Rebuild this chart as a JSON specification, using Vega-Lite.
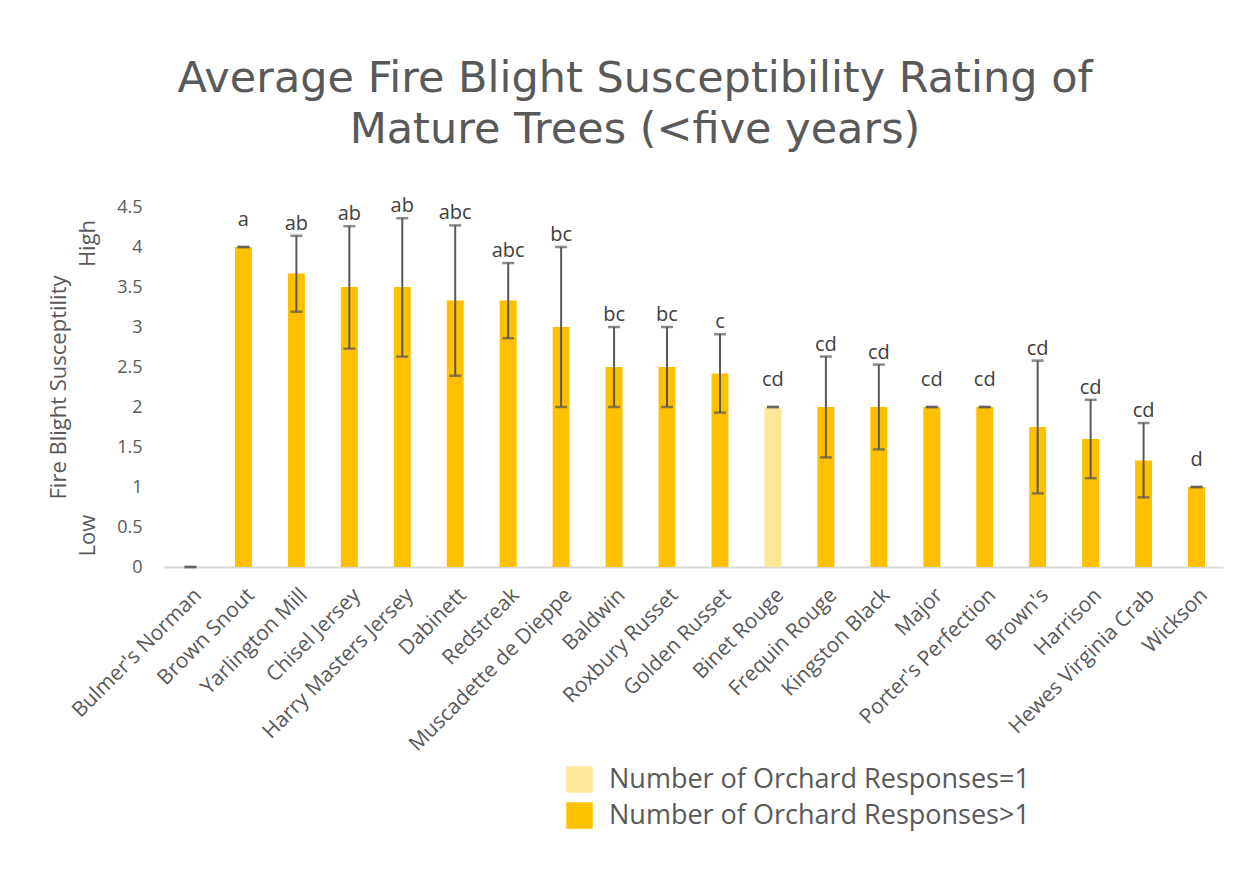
{
  "$schema": "https://vega.github.io/schema/vega-lite/v6.json",
  "width": 1059,
  "height": 360,
  "autosize": "none",
  "padding": {"left": 164, "top": 207, "right": 24, "bottom": 308},
  "background": "white",
  "title": {
    "text": ["Average Fire Blight Susceptibility Rating of", "Mature Trees (<five years)"],
    "font": "DejaVu Sans",
    "fontSize": 43,
    "fontWeight": "normal",
    "color": "#595959",
    "lineHeight": 51,
    "anchor": "middle",
    "frame": "bounds",
    "offset": 44
  },
  "data": {
    "values": [
      {"variety": "Bulmer's Norman", "mean": 0, "lower": 0, "upper": 0, "letters": "", "group": "Number of Orchard Responses>1"},
      {"variety": "Brown Snout", "mean": 4.0, "lower": 4.0, "upper": 4.0, "letters": "a", "group": "Number of Orchard Responses>1"},
      {"variety": "Yarlington Mill", "mean": 3.67, "lower": 3.19, "upper": 4.14, "letters": "ab", "group": "Number of Orchard Responses>1"},
      {"variety": "Chisel Jersey", "mean": 3.5, "lower": 2.73, "upper": 4.26, "letters": "ab", "group": "Number of Orchard Responses>1"},
      {"variety": "Harry Masters Jersey", "mean": 3.5, "lower": 2.63, "upper": 4.36, "letters": "ab", "group": "Number of Orchard Responses>1"},
      {"variety": "Dabinett", "mean": 3.33, "lower": 2.39, "upper": 4.27, "letters": "abc", "group": "Number of Orchard Responses>1"},
      {"variety": "Redstreak", "mean": 3.33, "lower": 2.86, "upper": 3.8, "letters": "abc", "group": "Number of Orchard Responses>1"},
      {"variety": "Muscadette de Dieppe", "mean": 3.0, "lower": 2.0, "upper": 4.0, "letters": "bc", "group": "Number of Orchard Responses>1"},
      {"variety": "Baldwin", "mean": 2.5, "lower": 2.0, "upper": 3.0, "letters": "bc", "group": "Number of Orchard Responses>1"},
      {"variety": "Roxbury Russet", "mean": 2.5, "lower": 2.0, "upper": 3.0, "letters": "bc", "group": "Number of Orchard Responses>1"},
      {"variety": "Golden Russet", "mean": 2.42, "lower": 1.93, "upper": 2.91, "letters": "c", "group": "Number of Orchard Responses>1"},
      {"variety": "Binet Rouge", "mean": 2.0, "lower": 2.0, "upper": 2.0, "letters": "cd", "group": "Number of Orchard Responses=1"},
      {"variety": "Frequin Rouge", "mean": 2.0, "lower": 1.37, "upper": 2.63, "letters": "cd", "group": "Number of Orchard Responses>1"},
      {"variety": "Kingston Black", "mean": 2.0, "lower": 1.47, "upper": 2.53, "letters": "cd", "group": "Number of Orchard Responses>1"},
      {"variety": "Major", "mean": 2.0, "lower": 2.0, "upper": 2.0, "letters": "cd", "group": "Number of Orchard Responses>1"},
      {"variety": "Porter's Perfection", "mean": 2.0, "lower": 2.0, "upper": 2.0, "letters": "cd", "group": "Number of Orchard Responses>1"},
      {"variety": "Brown's", "mean": 1.75, "lower": 0.92, "upper": 2.58, "letters": "cd", "group": "Number of Orchard Responses>1"},
      {"variety": "Harrison", "mean": 1.6, "lower": 1.11, "upper": 2.09, "letters": "cd", "group": "Number of Orchard Responses>1"},
      {"variety": "Hewes Virginia Crab", "mean": 1.33, "lower": 0.87, "upper": 1.8, "letters": "cd", "group": "Number of Orchard Responses>1"},
      {"variety": "Wickson", "mean": 1.0, "lower": 1.0, "upper": 1.0, "letters": "d", "group": "Number of Orchard Responses>1"}
    ]
  },
  "encoding": {
    "x": {
      "field": "variety",
      "type": "nominal",
      "sort": null,
      "scale": {"paddingInner": 0.68, "paddingOuter": 0.34},
      "axis": {
        "title": null,
        "labelAngle": -45,
        "labelFont": "Open Sans",
        "labelFontSize": 21,
        "labelColor": "#595959",
        "labelPadding": 17,
        "labelLimit": 300,
        "ticks": false,
        "domainColor": "#D9D9D9",
        "domainWidth": 2
      }
    }
  },
  "layer": [
    {
      "mark": {"type": "bar"},
      "encoding": {
        "y": {
          "field": "mean",
          "type": "quantitative",
          "scale": {"domain": [0, 4.5], "nice": false},
          "axis": {
            "orient": "left",
            "values": [0, 0.5, 1, 1.5, 2, 2.5, 3, 3.5, 4, 4.5],
            "format": ".1~f",
            "labelOverlap": false,
            "title": null,
            "grid": false,
            "domain": false,
            "ticks": false,
            "labelFont": "Open Sans",
            "labelFontSize": 18,
            "labelColor": "#595959",
            "labelPadding": 22
          }
        },
        "color": {
          "field": "group",
          "type": "nominal",
          "scale": {
            "domain": ["Number of Orchard Responses=1", "Number of Orchard Responses>1"],
            "range": ["#FFE699", "#FFC000"]
          },
          "legend": {
            "title": null,
            "orient": "none",
            "legendX": 402,
            "legendY": 559,
            "direction": "vertical",
            "symbolType": "square",
            "symbolSize": 700,
            "symbolStrokeWidth": 0,
            "labelFont": "Open Sans",
            "labelFontSize": 27,
            "labelColor": "#595959",
            "labelLimit": 600,
            "rowPadding": 8,
            "labelOffset": 16
          }
        }
      }
    },
    {
      "mark": {"type": "rule", "color": "#595959", "strokeWidth": 2},
      "encoding": {
        "y": {
          "field": "lower",
          "type": "quantitative",
          "scale": {"domain": [0, 4.5], "nice": false},
          "axis": {
            "orient": "left",
            "offset": 63,
            "values": [0.4, 4.05],
            "labelExpr": "datum.value > 2 ? 'High' : 'Low'",
            "labelAngle": -90,
            "labelAlign": "center",
            "labelBaseline": "bottom",
            "labelOverlap": false,
            "labelFont": "Open Sans",
            "labelFontSize": 22,
            "labelColor": "#595959",
            "labelPadding": 2,
            "grid": false,
            "domain": false,
            "ticks": false,
            "title": "Fire Blight Susceptility",
            "titleFont": "Open Sans",
            "titleFontSize": 22,
            "titleFontWeight": "normal",
            "titleColor": "#595959",
            "titlePadding": 6
          }
        },
        "y2": {"field": "upper"}
      }
    },
    {
      "layer": [
        {
          "transform": [{"filter": "datum.upper > datum.lower"}],
          "mark": {"type": "text", "baseline": "bottom", "dy": -2, "font": "Open Sans", "fontSize": 20, "color": "#404040"},
          "encoding": {
            "y": {"field": "upper", "type": "quantitative", "scale": {"domain": [0, 4.5], "nice": false}, "axis": null},
            "text": {"field": "letters"}
          }
        },
        {
          "transform": [{"filter": "datum.upper == datum.lower"}],
          "mark": {"type": "text", "baseline": "bottom", "dy": -17, "font": "Open Sans", "fontSize": 20, "color": "#404040"},
          "encoding": {
            "y": {"field": "upper", "type": "quantitative", "scale": {"domain": [0, 4.5], "nice": false}, "axis": null},
            "text": {"field": "letters"}
          }
        },
        {
          "mark": {"type": "tick", "color": "#595959", "thickness": 2.5, "size": 12},
          "encoding": {
            "y": {"field": "upper", "type": "quantitative", "scale": {"domain": [0, 4.5], "nice": false}, "axis": null}
          }
        },
        {
          "mark": {"type": "tick", "color": "#595959", "thickness": 2.5, "size": 12},
          "encoding": {
            "y": {"field": "lower", "type": "quantitative", "scale": {"domain": [0, 4.5], "nice": false}, "axis": null}
          }
        }
      ]
    }
  ],
  "resolve": {"scale": {"y": "independent"}, "axis": {"y": "independent"}},
  "config": {"view": {"stroke": null}}
}
